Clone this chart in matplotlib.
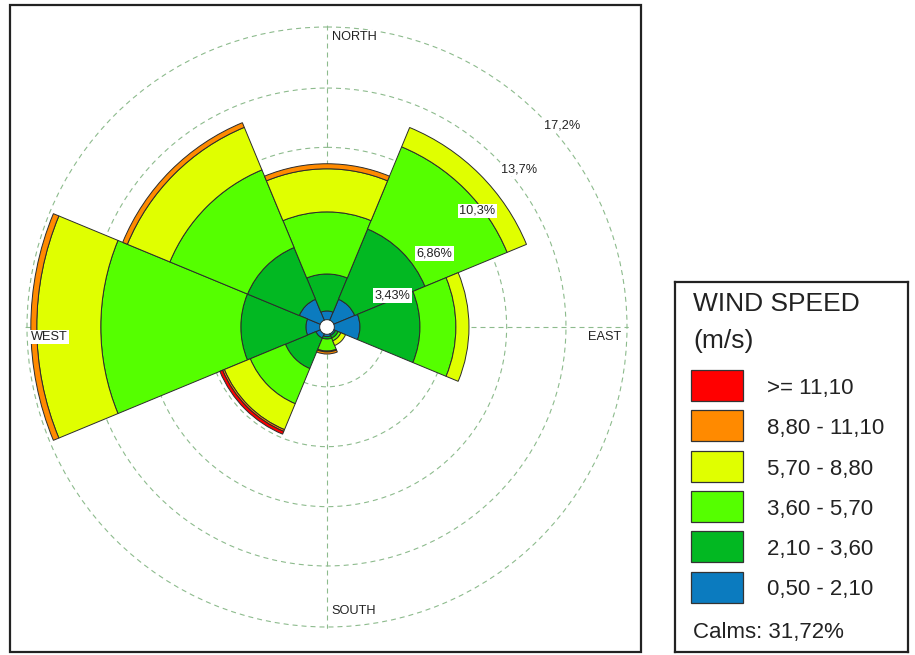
import numpy as np
import matplotlib
matplotlib.use("Agg")
import matplotlib.pyplot as plt
from matplotlib.patches import Rectangle

plt.rcParams["font.family"] = ["Liberation Sans", "DejaVu Sans"]

# sectors, clockwise from north
directions = ["N", "NE", "E", "SE", "S", "SW", "W", "NW"]
angles_deg = [0, 45, 90, 135, 180, 225, 270, 315]

# frequency (%) of each speed class per direction
freq_050_210 = [0.50, 1.30, 1.47, 0.10, 0.13, 0.27, 0.79, 1.30]
freq_210_360 = [2.12, 4.36, 3.44, 0.17, 0.14, 1.89, 3.73, 3.21]
freq_360_570 = [3.56, 5.10, 2.06, 0.17, 0.69, 2.18, 8.03, 4.82]
freq_570_880 = [2.47, 1.20, 0.75, 0.29, 0.05, 1.61, 3.67, 2.64]
freq_880_1110 = [0.29, 0.00, 0.00, 0.00, 0.12, 0.11, 0.34, 0.29]
freq_1110_up = [0.00, 0.00, 0.00, 0.00, 0.00, 0.17, 0.00, 0.00]

speed_classes = [freq_050_210, freq_210_360, freq_360_570,
                 freq_570_880, freq_880_1110, freq_1110_up]
class_labels = ["0,50 - 2,10", "2,10 - 3,60", "3,60 - 5,70",
                "5,70 - 8,80", "8,80 - 11,10", ">= 11,10"]
class_colors = ["#0b7bbf", "#02b822", "#55ff00", "#e0ff00", "#ff8a00", "#ff0000"]

ring_values = [3.43, 6.86, 10.3, 13.7, 17.2]
ring_labels = ["3,43%", "6,86%", "10,3%", "13,7%", "17,2%"]
compass_names = ["NORTH", "EAST", "SOUTH", "WEST"]
calms_pct = "31,72%"

# radius of the calm hole in the middle
hole = 0.42
r_max = 17.3

W, H = 915, 655
fig = plt.figure(figsize=(W / 100, H / 100), dpi=100)

# outer frame round the rose
fig.add_artist(Rectangle((10 / W, 3 / H), 631 / W, 647 / H,
                         transform=fig.transFigure, fill=False,
                         edgecolor="#222222", linewidth=1.6))

# polar axes, 300 px to the 17.2 % ring, centred at (327, 327)
rad_px = 300 * r_max / 17.2
cx, cy = 327, 327
ax = fig.add_axes([(cx - rad_px) / W, (H - cy - rad_px) / H,
                   2 * rad_px / W, 2 * rad_px / H], projection="polar")
ax.set_theta_zero_location("N")
ax.set_theta_direction(-1)
ax.set_ylim(0, r_max)
ax.set_rgrids(ring_values, labels=[])
ax.set_thetagrids([0, 90, 180, 270], labels=[])
ax.grid(True, color="#8dbb8d", linestyle=(0, (4.5, 3.6)), linewidth=0.8)
ax.spines["polar"].set_visible(False)
ax.set_axisbelow(True)
ax.patch.set_alpha(0)
ax.tick_params(length=0)

theta = np.deg2rad(angles_deg)
width = 2 * np.pi / len(directions)

# blank calm circle over the grid cross
ax.bar(0, hole, width=2 * np.pi, bottom=0, color="white",
       edgecolor="none", zorder=2)

bottom = np.full(len(directions), hole)
for vals, color in zip(speed_classes, class_colors):
    vals = np.array(vals)
    keep = vals > 0
    ax.bar(theta[keep], vals[keep], width=width, bottom=bottom[keep],
           color=color, edgecolor="#2b2b2b", linewidth=0.7, zorder=3)
    bottom = bottom + vals

# ring labels along the 45 degree line
box = dict(facecolor="white", edgecolor="none", pad=1.0)
for r, lab in zip(ring_values, ring_labels):
    ax.annotate(lab, xy=(np.deg2rad(45), r), xycoords="data",
                xytext=(5, -5), textcoords="offset pixels",
                ha="left", va="top", fontsize=9.2, color="#222222",
                bbox=box, zorder=5)

# compass names at the ends of the cross lines
offsets = {"NORTH": (5, -10, "left"), "EAST": (-6, -10, "right"),
           "SOUTH": (4, 16, "left"), "WEST": (4, -10, "left")}
for ang, name in zip([0, 90, 180, 270], compass_names):
    dx, dy, ha = offsets[name]
    ax.annotate(name, xy=(np.deg2rad(ang), 17.2), xycoords="data",
                xytext=(dx, dy), textcoords="offset pixels",
                ha=ha, va="center", fontsize=9.2, color="#222222",
                bbox=box, zorder=5)

# legend panel, drawn in pixel units (y down)
lax = fig.add_axes([675 / W, 3 / H, 233 / W, 370 / H])
lax.set_xlim(0, 233)
lax.set_ylim(370, 0)
lax.set_xticks([])
lax.set_yticks([])
for sp in lax.spines.values():
    sp.set_linewidth(1.6)
    sp.set_color("#222222")

lax.text(18, 29, "WIND SPEED", fontsize=19, color="#222222", va="baseline")
lax.text(18, 66, "(m/s)", fontsize=19, color="#222222", va="baseline")

row_top, row_step = 88, 40.3
for i, (lab, color) in enumerate(zip(class_labels[::-1], class_colors[::-1])):
    y0 = row_top + i * row_step
    lax.add_patch(Rectangle((15.7, y0), 52.6, 31, facecolor=color,
                            edgecolor="#333333", linewidth=0.9))
    lax.text(92.3, y0 + 24, lab, fontsize=16, color="#222222", va="baseline")

lax.text(17.7, 356, f"Calms: {calms_pct}", fontsize=16, color="#222222",
         va="baseline")

fig.savefig("out.png", dpi=100)
